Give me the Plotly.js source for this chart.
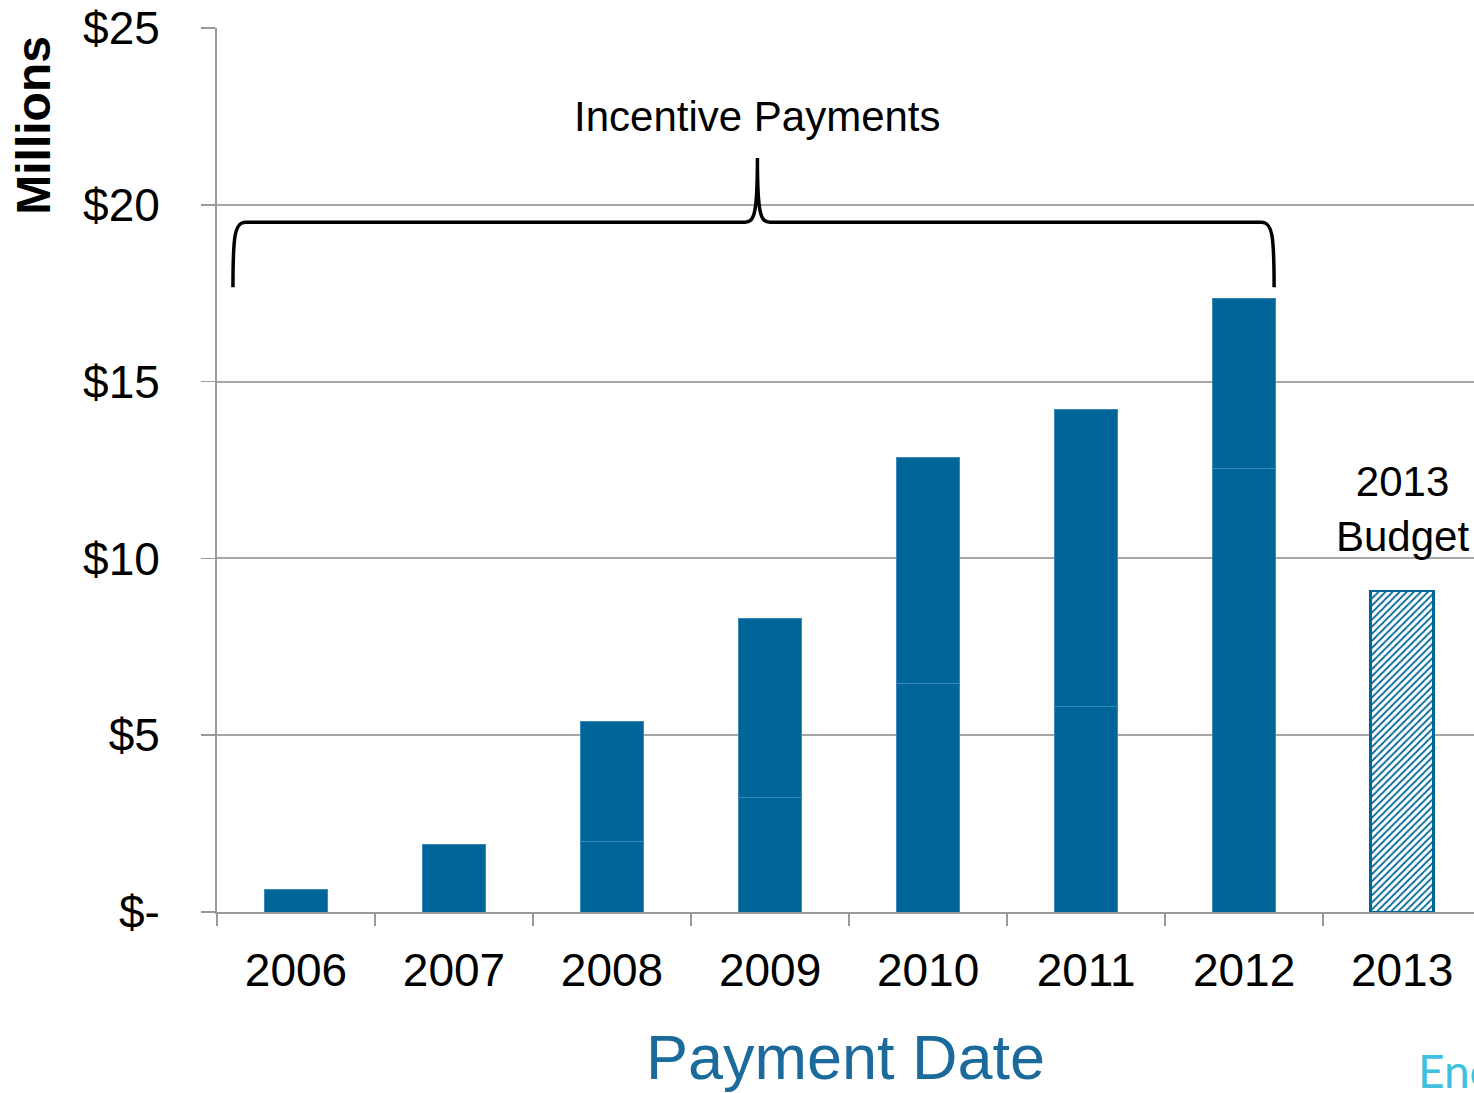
<!DOCTYPE html>
<html>
<head>
<meta charset="utf-8">
<script src="https://cdn.plot.ly/plotly-3.0.1.min.js"></script>
<style>html,body{margin:0;padding:0;background:#fff;}#chart{width:1474px;height:1093px;}</style>
</head>
<body>
<div id="chart"></div>
<script>
// Data (millions of dollars)
const years = ['2006','2007','2008','2009','2010','2011','2012','2013'];
const lowerSegment = [0.65, 1.92, 1.98, 3.25, 6.45, 5.80, 12.53, null];
const upperSegment = [null, null, 3.42, 5.04, 6.39, 8.40, 4.83, null];
const budget2013 = [null, null, null, null, null, null, null, 9.08];
const yTickVals = [0, 5, 10, 15, 20, 25];
const yTickText = ['$-', '$5', '$10', '$15', '$20', '$25'];

const FONT = '"Liberation Sans", Arial, sans-serif';
const BLUE = '#006699';
const SEP = '#3a88b8';

const traces = [
  {type:'bar', x: years, y: lowerSegment, width: 0.4,
   marker:{color: BLUE, line:{color: SEP, width: 1}}, hoverinfo:'y'},
  {type:'bar', x: years, y: upperSegment, width: 0.4,
   marker:{color: BLUE, line:{color: SEP, width: 1}}, hoverinfo:'y'},
  {type:'bar', x: years, y: budget2013, width: 0.4,
   marker:{color: 'white', line:{color: BLUE, width: 2.5},
           pattern:{shape:'/', fgcolor: BLUE, bgcolor:'white', size: 5, solidity: 0.35}},
   hoverinfo:'y'}
];

// brace (data coordinates)
const bL = -0.399, bR = 6.19, bPk = 2.92, yB = 17.67, yH = 19.51, yT = 21.32;
const bracePath =
  `M ${bL},${yB} C ${bL},${yH-0.4} ${bL+0.01},${yH} ${bL+0.08},${yH} ` +
  `L ${bPk-0.08},${yH} C ${bPk-0.02},${yH} ${bPk},${yH+0.2} ${bPk},${yT} ` +
  `C ${bPk},${yH+0.2} ${bPk+0.02},${yH} ${bPk+0.08},${yH} ` +
  `L ${bR-0.08},${yH} C ${bR-0.01},${yH} ${bR},${yH-0.4} ${bR},${yB}`;

const layout = {
  width: 1474, height: 1093,
  margin: {l: 217, r: 0, t: 28, b: 181},
  paper_bgcolor: 'white', plot_bgcolor: 'white',
  barmode: 'stack', showlegend: false,
  font: {family: FONT, color: '#000'},
  xaxis: {
    type: 'category', range: [-0.5, 7.455],
    tickson: 'boundaries', ticks: 'outside', ticklen: 12, tickcolor: '#999', tickwidth: 1.5,
    showline: true, linecolor: '#999', linewidth: 2,
    showgrid: false, zeroline: false,
    tickfont: {size: 46, family: FONT, color: '#000'},
    ticklabelstandoff: 17,
    title: {text: 'Payment Date', font: {size: 63, family: FONT, color: '#1a6a9c'}, standoff: 40}
  },
  yaxis: {
    range: [0, 25], tickvals: yTickVals, ticktext: yTickText,
    ticks: 'outside', ticklen: 14, tickcolor: '#999', tickwidth: 1.5,
    showline: true, linecolor: '#999', linewidth: 2,
    showgrid: true, gridcolor: '#a6a6a6', gridwidth: 2,
    zeroline: false,
    tickfont: {size: 46, family: FONT, color: '#000'},
    ticklabelstandoff: 32
  },
  shapes: [
    {type:'path', xref:'x', yref:'y', path: bracePath, line:{color:'#000', width:3.5}}
  ],
  annotations: [
    {xref:'x', yref:'y', x: 2.92, y: 22.51, text: 'Incentive Payments', showarrow:false,
     font:{size: 42, family: FONT, color:'#000'}, xanchor:'center', yanchor:'middle'},
    {xref:'x', yref:'y', x: 7.0, y: 11.4, text: '2013<br>Budget', showarrow:false,
     font:{size: 42, family: FONT, color:'#000'}, xanchor:'center', yanchor:'middle'},
    {xref:'paper', yref:'paper', x: -0.146, y: 0.89, text: '<b>Millions</b>', showarrow:false,
     textangle: -90, font:{size: 48, family: FONT, color:'#000'}, xanchor:'center', yanchor:'middle'},
    {xref:'paper', yref:'paper', x: 0.9535, y: -0.179, text: 'Ene', showarrow:false,
     font:{size: 46, family: 'Lato, sans-serif', color:'#40bfe0'}, xanchor:'left', yanchor:'middle'}
  ]
};

Plotly.newPlot('chart', traces, layout, {displayModeBar: false, staticPlot: true});
</script>
</body>
</html>
